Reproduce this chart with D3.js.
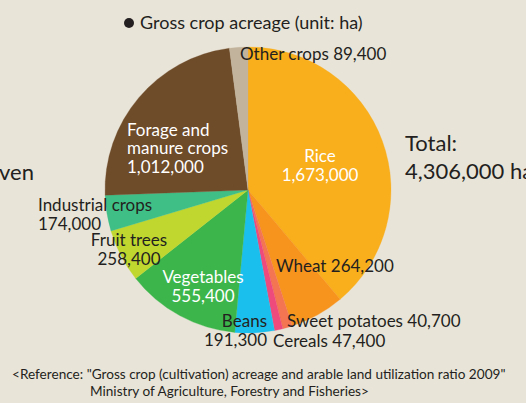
<!DOCTYPE html>
<html>
<head>
<meta charset="utf-8">
<script src="https://cdn.jsdelivr.net/npm/d3@7"></script>
<style>
  html, body { margin: 0; padding: 0; background: #e9e4d8; }
  svg text { font-family: Lato, "Open Sans", sans-serif; }
</style>
</head>
<body>
<div id="chart"></div>
<script>
(function(){
  const width = 526,
        height = 403,
        cx = 248, cy = 190, radius = 143

  // crops, clockwise from 12 o'clock
  const crops = ['Rice', 'Wheat', 'Cereals', 'Sweet potatoes', 'Beans', 'Vegetables',
                 'Fruit trees', 'Industrial crops', 'Forage and manure crops', 'Other crops']
  const acreage = [1673000, 264200, 47400, 40700, 191300, 555400,
                   258400, 174000, 1012000, 89400]
  const colors = ['#f9ae1b', '#f7941e', '#f37551', '#ee4a7c', '#1bbfee', '#3cb64b',
                  '#c0d72f', '#3fbf86', '#6e4b29', '#c2b49c']

  // label text lines
  const labelLines = [
    ['Rice', '1,673,000'],
    ['Wheat 264,200'],
    ['Cereals 47,400'],
    ['Sweet potatoes 40,700'],
    ['Beans', '191,300'],
    ['Vegetables', '555,400'],
    ['Fruit trees', '258,400'],
    ['Industrial crops', '174,000'],
    ['Forage and', 'manure crops', '1,012,000'],
    ['Other crops 89,400']
  ]
  // placement and fill (white inside the pie, dark outside)
  const labelPos = [
    {x: 320, y: 162, a: 'middle', c: '#fff', dy: [0, 19]},
    {x: 276, y: 272, a: 'start', c: '#231f20', dy: [0]},
    {x: 273, y: 347, a: 'start', c: '#231f20', dy: [0]},
    {x: 287, y: 327, a: 'start', c: '#231f20', dy: [0]},
    {x: 267, y: 327, a: 'end', c: '#231f20', dy: [0, 19]},
    {x: 203, y: 283, a: 'middle', c: '#fff', dy: [0, 19]},
    {x: 129, y: 246, a: 'middle', c: '#231f20', dy: [0, 19]},
    {x: 38, y: 211, a: 'start', c: '#231f20', dy: [0, 19]},
    {x: 127, y: 136, a: 'start', c: '#fff', dy: [0, 18, 37]},
    {x: 240, y: 60, a: 'start', c: '#231f20', dy: [0]}
  ]

  const svg = d3.select('#chart').append('svg')
    .attr('width', width)
    .attr('height', height)

  svg.append('rect')
    .attr('width', width).attr('height', height)
    .attr('fill', '#e9e4d8')

  // title
  svg.append('circle').attr('cx', 129).attr('cy', 23).attr('r', 5).attr('fill', '#231f20')
  svg.append('text')
    .attr('x', 140).attr('y', 29)
    .attr('font-size', 18).attr('fill', '#231f20')
    .text('Gross crop acreage (unit: ha)')

  const pie = d3.pie().sort(null).value(d => d)
  const arc = d3.arc().innerRadius(0).outerRadius(radius)
  const color = d3.scaleOrdinal().domain(crops).range(colors)

  const g = svg.append('g').attr('transform', 'translate(' + cx + ',' + cy + ')')

  g.selectAll('path').data(pie(acreage)).enter().append('path')
    .attr('d', arc)
    .attr('fill', (d, i) => color(crops[i]))
    .attr('stroke', (d, i) => color(crops[i]))
    .attr('stroke-width', 0.3)

  // labels
  labelLines.forEach(function(lines, i){
    let p = labelPos[i]
    let t = svg.append('text')
      .attr('font-size', 17)
      .attr('fill', p.c)
      .attr('text-anchor', p.a)
    lines.forEach(function(line, j){
      t.append('tspan').attr('x', p.x).attr('y', p.y + p.dy[j]).text(line)
    })
  })

  // total
  svg.append('text').attr('x', 405).attr('y', 151)
    .attr('font-size', 22).attr('fill', '#231f20').text('Total:')
  svg.append('text').attr('x', 405).attr('y', 179)
    .attr('font-size', 22).attr('fill', '#231f20').text('4,306,000 ha')

  // cut-off word on the left edge
  svg.append('text').attr('x', -1).attr('y', 180)
    .attr('font-size', 22).attr('fill', '#231f20').text('ven')

  // reference note
  svg.append('text').attr('x', 12).attr('y', 379)
    .attr('font-size', 13.6).attr('fill', '#231f20')
    .text('<Reference: "Gross crop (cultivation) acreage and arable land utilization ratio 2009"')
  svg.append('text').attr('x', 90).attr('y', 396)
    .attr('font-size', 13.6).attr('fill', '#231f20')
    .text('Ministry of Agriculture, Forestry and Fisheries>')
})()
</script>
</body>
</html>
